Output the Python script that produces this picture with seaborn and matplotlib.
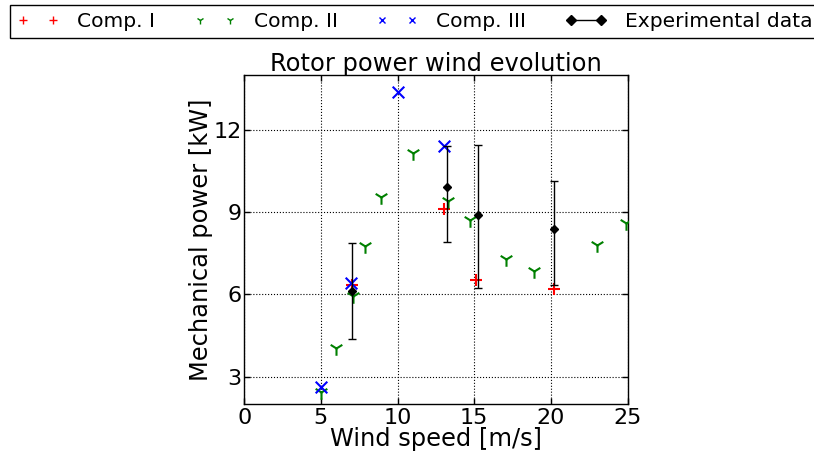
import numpy as np
import pandas as pd
import matplotlib
matplotlib.use("Agg")
import matplotlib.pyplot as plt
import seaborn as sns
from matplotlib.lines import Line2D

# data
comp1_wind = [7.0, 13.05, 15.1, 20.2]
comp1_power = [6.33, 9.1, 6.53, 6.2]

comp2_wind = [5.0, 6.0, 7.1, 7.85, 8.9, 11.0, 13.3, 14.7, 17.1, 18.9, 23.0, 24.9]
comp2_power = [2.45, 4.05, 5.95, 7.75, 9.55, 11.15, 9.4, 8.7, 7.3, 6.85, 7.8, 8.6]

comp3_wind = [5.0, 6.95, 10.0, 13.05]
comp3_power = [2.62, 6.4, 13.37, 11.42]

exp_wind = [7.05, 13.2, 15.25, 20.2]
exp_power = [6.12, 9.9, 8.9, 8.4]
exp_err_low = [1.76, 1.98, 2.68, 2.05]
exp_err_high = [1.76, 1.5, 2.53, 1.72]

x_ticks = [0, 5, 10, 15, 20, 25]
y_ticks = [3, 6, 9, 12]

sns.set_style("ticks", {"xtick.direction": "in", "ytick.direction": "in"})
plt.rcParams['font.family'] = ['DejaVu Sans']
plt.rcParams['text.color'] = 'black'
plt.rcParams['axes.labelcolor'] = 'black'
plt.rcParams['xtick.color'] = 'black'
plt.rcParams['ytick.color'] = 'black'

fig = plt.figure(figsize=(8.14, 4.54), dpi=100)
ax = fig.add_axes([0.300, 0.110, 0.471, 0.725])

df1 = pd.DataFrame({'wind': comp1_wind, 'power': comp1_power})
df2 = pd.DataFrame({'wind': comp2_wind, 'power': comp2_power})
df3 = pd.DataFrame({'wind': comp3_wind, 'power': comp3_power})

sns.scatterplot(data=df1, x='wind', y='power', marker='+', color='red',
                s=75, linewidth=1.5, ax=ax, zorder=3)
sns.scatterplot(data=df2, x='wind', y='power', marker='1', color='green',
                s=110, linewidth=1.5, ax=ax, zorder=3)
sns.scatterplot(data=df3, x='wind', y='power', marker='x', color='blue',
                s=70, linewidth=1.5, ax=ax, zorder=3)
ax.errorbar(exp_wind, exp_power, yerr=[exp_err_low, exp_err_high], fmt='D',
            color='black', ms=4.5, ecolor='black', elinewidth=1, capsize=3,
            capthick=1, zorder=4)

ax.set_xlim(0, 25)
ax.set_ylim(2, 14)
ax.set_xticks(x_ticks)
ax.set_yticks(y_ticks)
ax.tick_params(direction='in', length=4, width=1, top=True, right=True,
               labelsize=16, pad=3, colors='black')
ax.tick_params(axis='y', pad=2)
ax.grid(True, color='black', linestyle=':', linewidth=0.8)
for sp in ax.spines.values():
    sp.set_visible(True)
    sp.set_color('black')
    sp.set_linewidth(1)

ax.set_title("Rotor power wind evolution", fontsize=17.4, pad=3, color='black')
ax.set_xlabel("Wind speed [m/s]", fontsize=17.4, labelpad=-1)
ax.set_ylabel("Mechanical power [kW]", fontsize=17.4, labelpad=0)

handles = [
    Line2D([], [], linestyle='none', marker='+', color='red', ms=6, mew=1),
    Line2D([], [], linestyle='none', marker='1', color='green', ms=6, mew=1),
    Line2D([], [], linestyle='none', marker='x', color='blue', ms=5, mew=1),
    Line2D([], [], linestyle='-', marker='D', color='black', ms=5, lw=1),
]
labels = ["Comp. I", "Comp. II", "Comp. III", "Experimental data"]
leg = fig.legend(handles, labels, loc='upper left', bbox_to_anchor=(0.0123, 0.989),
                 ncol=4, numpoints=2, fontsize=14.6, frameon=True, fancybox=False,
                 edgecolor='black', framealpha=1, borderaxespad=0,
                 columnspacing=1.9, handlelength=2.07, handletextpad=0.89,
                 borderpad=0.35)
leg.get_frame().set_linewidth(1)

fig.savefig("out.png", dpi=100)
